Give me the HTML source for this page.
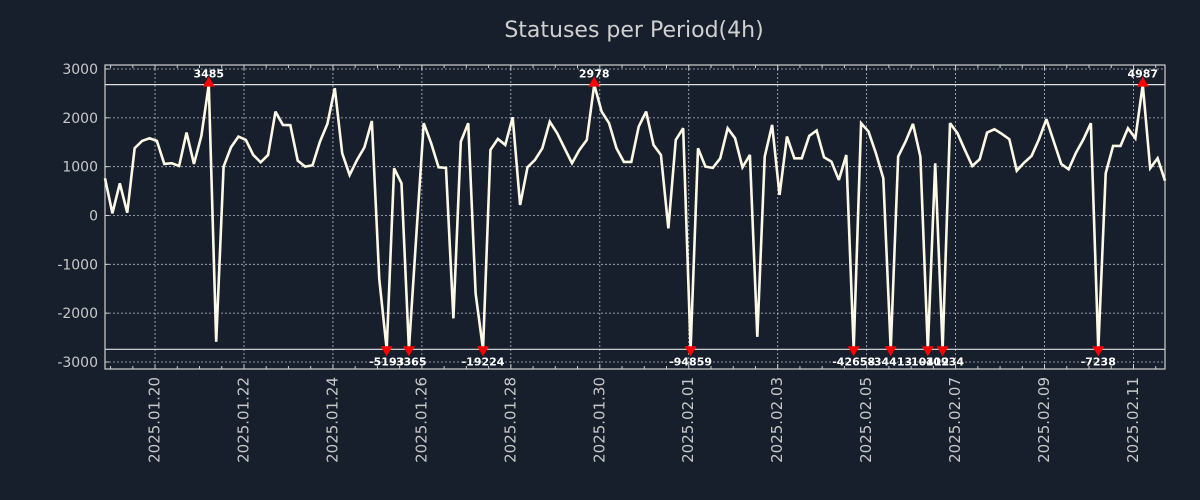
<!DOCTYPE html>
<html><head><meta charset="utf-8"><style>
html,body{margin:0;padding:0;background:#161f2b;}
svg{display:block;font-family:"DejaVu Sans","Liberation Sans",sans-serif;}
</style></head><body>
<svg id="chart" width="1200" height="500" viewBox="0 0 1200 500" xmlns="http://www.w3.org/2000/svg">
<rect x="0" y="0" width="1200" height="500" fill="#161f2b"/>
<text x="634" y="37" text-anchor="middle" font-size="22" fill="#d0d0d0">Statuses per Period(4h)</text>
<g id="grid"></g>
<g id="axes"></g>
<g id="series"></g>
<g id="marks"></g>
</svg>
<script>
const values = [762,45,660,57,1377,1527,1582,1527,1056,1070,1015,1698,1056,1630,3485,-2587,1001,1398,1616,1548,1240,1090,1240,2128,1855,1850,1124,1001,1029,1513,1876,2607,1275,830,1138,1398,1937,-1300,-5193,967,660,-3365,-400,1890,1480,988,975,-2107,1513,1890,-1600,-19224,1343,1568,1445,2013,215,988,1138,1377,1923,1685,1377,1070,1343,1548,2978,2128,1890,1377,1097,1097,1821,2128,1445,1240,-263,1548,1787,-94859,1377,1001,975,1172,1787,1582,988,1240,-2485,1206,1855,420,1616,1172,1172,1630,1739,1192,1104,728,1240,-42658,1890,1719,1275,762,-34413,1206,1513,1876,1206,-10412,1070,-10934,1890,1685,1343,1015,1152,1698,1767,1671,1562,918,1082,1220,1562,1972,1513,1056,947,1288,1562,1890,-7238,865,1425,1425,1787,1582,4987,967,1172,713];
const yTicks = [3000,2000,1000,0,-1000,-2000,-3000];
const xTickLabels = ["2025.01.20","2025.01.22","2025.01.24","2025.01.26","2025.01.28","2025.01.30","2025.02.01","2025.02.03","2025.02.05","2025.02.07","2025.02.09","2025.02.11"];
const xTickDays = [1,3,5,7,9,11,13,15,17,19,21,23]; // days after 2025.01.19
const clipHigh = 2680, clipLow = -2740;
const startOffsetH = 21;

const L=105,R=1165,T=65,B=369;
const NS="http://www.w3.org/2000/svg";
const nH=(values.length-1)*4;
function xOfHour(h){return L+(h/nH)*(R-L);}
function xOfIdx(i){return xOfHour(i*4);}
function xOfDay(d){return xOfHour((d+1)*24-startOffsetH);}
function y(v){return 215.5-(v/1000)*48.83;}
function mk(tag,attrs,parent){const e=document.createElementNS(NS,tag);for(const k in attrs)e.setAttribute(k,attrs[k]);parent.appendChild(e);return e;}
const grid=document.getElementById('grid'),axes=document.getElementById('axes'),series=document.getElementById('series'),marks=document.getElementById('marks');

yTicks.forEach(v=>{
  const yy=y(v);
  const g=mk('line',{x1:L,x2:R,y1:yy,y2:yy,stroke:'#b8bcc4','stroke-width':0.8,'stroke-dasharray':'2,2'},grid);
  
  
  const t=mk('text',{x:L-7,y:yy+5,'text-anchor':'end','font-size':14,fill:'#c8c8c8'},axes);
  t.textContent=v;
  
  
  const tk=mk('line',{x1:L,x2:L+4,y1:yy,y2:yy,stroke:'#d0d0d0','stroke-width':1},axes);
  
  
});
xTickDays.forEach((d,k)=>{
  const xx=xOfDay(d);
  const g=mk('line',{x1:xx,x2:xx,y1:T,y2:B,stroke:'#b8bcc4','stroke-width':0.8,'stroke-dasharray':'2,2'},grid);
  
  
  const t=mk('text',{x:0,y:0,'text-anchor':'end','font-size':15,fill:'#c8c8c8',transform:`translate(${xx+4.5},${B+8}) rotate(-90)`},axes);
  t.textContent=xTickLabels[k];
  
  
});
for(let d=-1;d<=25;d+=0.5){
  const xx=xOfDay(d); if(xx<L||xx>R)continue;
  const len=Number.isInteger(d)&&d%2===1?5:3;
  const tk=mk('line',{x1:xx,x2:xx,y1:B,y2:B-len,stroke:'#d0d0d0','stroke-width':1},axes);
  
  
  const tk2=mk('line',{x1:xx,x2:xx,y1:T,y2:T+len,stroke:'#d0d0d0','stroke-width':1},axes);
  
  
}
[clipHigh,clipLow].forEach(v=>{
  const l=mk('line',{x1:L,x2:R,y1:y(v),y2:y(v),stroke:'#e0e0e0','stroke-width':1.2},axes);
  
  
});
const frame=mk('rect',{x:L,y:T,width:R-L,height:B-T,fill:'none',stroke:'#d0d0d0','stroke-width':1.2},axes);



const pts=values.map((v,i)=>`${xOfIdx(i).toFixed(2)},${y(Math.max(clipLow,Math.min(clipHigh,v))).toFixed(2)}`).join(' ');
const pl=mk('polyline',{points:pts,fill:'none',stroke:'#fdf9e6','stroke-width':2.6,'stroke-linejoin':'miter','stroke-miterlimit':3},series);



values.forEach((v,i)=>{
  if(v<=clipHigh&&v>=clipLow)return;
  const xx=xOfIdx(i);
  if(v>clipHigh){
    const yy=y(clipHigh);
    const m=mk('polygon',{points:`${xx-6},${yy+2} ${xx+6},${yy+2} ${xx},${yy-8}`,fill:'#ff0000'},marks);
    
    
    const t=mk('text',{x:xx,y:yy-7,'text-anchor':'middle','font-size':11,'font-weight':'bold',fill:'#ffffff'},marks);
    t.textContent=v;
    
    
  } else {
    const yy=y(clipLow);
    const m=mk('polygon',{points:`${xx-6},${yy-3} ${xx+6},${yy-3} ${xx},${yy+7}`,fill:'#ff0000'},marks);
    
    
    const t=mk('text',{x:xx,y:yy+16,'text-anchor':'middle','font-size':11,'font-weight':'bold',fill:'#ffffff'},marks);
    t.textContent=v;
    
    
  }
});
</script>
</body></html>
